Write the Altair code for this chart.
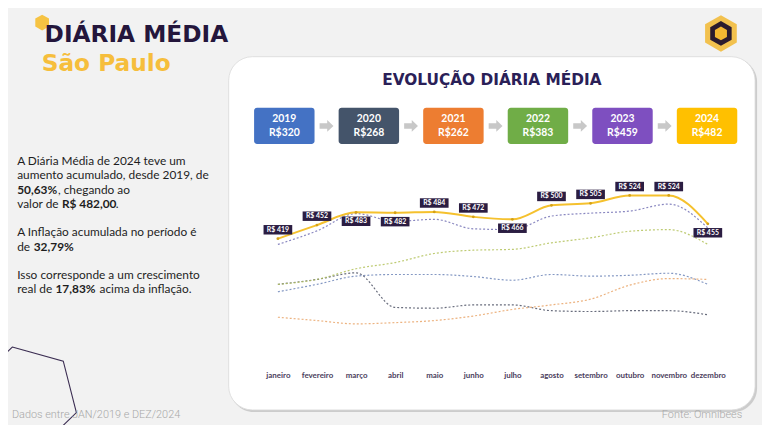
import altair as alt
import pandas as pd

# ---------------- dados ----------------
meses = ["janeiro", "fevereiro", "março", "abril", "maio", "junho",
         "julho", "agosto", "setembro", "outubro", "novembro", "dezembro"]
anos = ["2019", "2020", "2021", "2022", "2023", "2024"]
medias_anuais = [320, 268, 262, 383, 459, 482]

diaria_2019 = [290, 308, 328, 332, 332, 327, 318, 332, 328, 330, 335, 308]
diaria_2020 = [308, 320, 336, 252, 250, 258, 258, 244, 242, 244, 244, 234]
diaria_2021 = [228, 220, 212, 215, 220, 231, 247, 258, 272, 306, 322, 320]
diaria_2022 = [308, 320, 346, 361, 383, 391, 393, 409, 421, 437, 441, 405]
diaria_2023 = [405, 438, 480, 461, 466, 443, 441, 474, 481, 486, 503, 445]
diaria_2024 = [419, 452, 483, 482, 484, 472, 466, 500, 505, 524, 524, 455]

titulo_1 = "DIÁRIA MÉDIA"
titulo_2 = "São Paulo"
titulo_grafico = "EVOLUÇÃO DIÁRIA MÉDIA"
rodape_esq = "Dados entre JAN/2019 e DEZ/2024"
rodape_dir = "Fonte: Omnibees"

# ---------------- estilo ----------------
cores_anos = ["#4472C4", "#44546A", "#ED7D31", "#70AD47", "#7E4FC0", "#FFC000"]
cores_linhas = ["#6E86B8", "#4F5366", "#E9A468", "#B3C25A", "#7472B5"]
meses_rotulo_abaixo = ["março", "abril", "julho", "dezembro"]

W, H = 474, 183
OX, OY = 261, 189          # page position of the plot origin


def X(p):
    return p - OX


def Y(p):
    return p - OY


series = [diaria_2019, diaria_2020, diaria_2021, diaria_2022, diaria_2023, diaria_2024]
rows = []
for ano, vals in zip(anos, series):
    for m, v in zip(meses, vals):
        rows.append({"mes": m, "ano": ano, "valor": v,
                     "pos": "abaixo" if m in meses_rotulo_abaixo else "acima"})
df = pd.DataFrame(rows)

df_anos = pd.DataFrame({"ano": anos, "media": medias_anuais})
one = pd.DataFrame({"k": [0]})

xenc = alt.X("mes:O", sort=meses, scale=alt.Scale(type="point", padding=0.5),
             axis=alt.Axis(title=None, labelAngle=0, domain=False, ticks=False, tickSize=0,
                           labelPadding=1, labelFont="Lato", labelFontSize=8,
                           labelFontWeight="bold", labelColor="#4A3D5C", grid=False,
                           zindex=1))
yenc = alt.Y("valor:Q", scale=alt.Scale(domain=[99, 539], nice=False, zero=False), axis=None)


def txt(text, xp, yp, size, color, weight="normal", font="Lato", align="left",
        baseline="alphabetic"):
    return alt.Chart(one).mark_text(
        text=text, fontSize=size, color=color, fontWeight=weight, font=font,
        align=align, baseline=baseline
    ).encode(x=alt.value(X(xp)), y=alt.value(Y(yp)))


HEX = "M0,-1L0.866,-0.5L0.866,0.5L0,1L-0.866,0.5L-0.866,-0.5Z"
RECT = "M-1,-0.33H1V0.33H-1Z"
ARROW = "M-1,-0.4H0.1V-0.85L1,0L0.1,0.85V0.4H-1Z"
BIGHEX = ("M-0.248,-0.966L0.715,-0.698L0.963,0.271L0.248,0.968"
          "L-0.715,0.7L-0.963,-0.269Z")


def sym(shape, xp, yp, diam, color, filled=True, stroke_w=1):
    props = dict(shape=shape, size=diam * diam, opacity=1)
    if filled:
        props.update(filled=True, color=color, strokeWidth=0)
    else:
        props.update(filled=False, color=color, strokeWidth=stroke_w)
    return alt.Chart(one).mark_point(**props).encode(x=alt.value(X(xp)), y=alt.value(Y(yp)))


# ---------- page decorations ----------
shadow = alt.Chart(one).mark_rect(cornerRadius=24, color="#C2C2C2", opacity=0.8).encode(
    x=alt.value(X(232.5)), x2=alt.value(X(765)), y=alt.value(Y(56.5)), y2=alt.value(Y(414)))
card = alt.Chart(one).mark_rect(cornerRadius=24, color="white", stroke="#D9D9D9",
                                strokeWidth=0.8).encode(
    x=alt.value(X(231)), x2=alt.value(X(763)), y=alt.value(Y(55)), y2=alt.value(Y(412)))

hex_title = sym(HEX, 42.5, 20.5, 16, "#F6C343")
logo1 = sym(HEX, 728.5, 31.5, 37, "#F2C14E")
logo2 = sym(HEX, 728.5, 31.5, 25, "#2B1B2E")
logo3 = sym(HEX, 728.5, 31.5, 14, "#F4B731")
deco = sym(BIGHEX, 25.6, 400.1, 107, "#3B2D52", filled=False, stroke_w=1.1)

t1 = txt(titulo_1, 45, 40, 23.5, "#24163C", weight="bold", font="DejaVu Sans")
t2 = txt(titulo_2, 42, 69, 23.5, "#F6BE3C", weight="bold", font="DejaVu Sans")
tg = txt(titulo_grafico, 497, 84, 15.5, "#2A2057", weight="bold", font="DejaVu Sans",
         align="center")
f1 = txt(rodape_esq, 12, 420, 11, "#A8A8A8", weight=300, font="Roboto")
f2 = txt(rodape_dir, 750, 420, 11, "#A8A8A8", weight=300, font="Roboto", align="right")

# ---------- left text ----------
TC = "#1E1E1E"
segs = [
    ("A Diária Média de 2024 teve um", 17.3, 164, "normal"),
    ("aumento acumulado, desde 2019, de", 17.3, 178.7, "normal"),
    ("50,63%", 17.3, 193.3, "bold"), (", chegando ao", 58.5, 193.3, "normal"),
    ("valor de", 17.3, 208, "normal"), ("R$ 482,00", 62.5, 208, "bold"),
    (".", 117, 208, "normal"),
    ("A Inflação acumulada no período é", 17.3, 236.7, "normal"),
    ("de", 17.3, 251.3, "normal"), ("32,79%", 34, 251.3, "bold"),
    ("Isso corresponde a um crescimento", 17.3, 280, "normal"),
    ("real de", 17.3, 294.3, "normal"), ("17,83%", 56, 294.3, "bold"),
    ("acima da inflação.", 100.5, 294.3, "normal"),
]
left_layers = [txt(s, xp, yp, 12, TC, weight=w) for s, xp, yp, w in segs]

# ---------- data layers ----------
base = alt.Chart(df)
dashed = base.transform_filter(alt.datum.ano != "2024").mark_line(
    interpolate="monotone", strokeDash=[2, 2], strokeWidth=1.2, opacity=0.85
).encode(x=xenc, y=yenc,
         color=alt.Color("ano:N", scale=alt.Scale(domain=anos[:5], range=cores_linhas),
                         legend=None))
b24 = base.transform_filter(alt.datum.ano == "2024")
line24 = b24.mark_line(interpolate="monotone", color="#F5C12E", strokeWidth=2).encode(x=xenc, y=yenc)
pts24 = b24.mark_circle(size=8, color="#D4A017", opacity=1).encode(x=xenc, y=yenc)

lab_layers = []
for pos, off in [("acima", -9), ("abaixo", 9)]:
    bb = b24.transform_filter(alt.datum.pos == pos).transform_calculate(
        rotulo="'R$ ' + datum.valor")
    lab_layers.append(bb.mark_point(shape=RECT, size=29 * 29, filled=True, color="#2B1D42",
                                    opacity=1, strokeWidth=0, yOffset=off).encode(x=xenc, y=yenc))
    lab_layers.append(bb.mark_text(fontSize=7, fontWeight="bold", color="white", font="Lato",
                                   yOffset=off, baseline="middle").encode(
        x=xenc, y=yenc, text="rotulo:N"))

dados = alt.layer(dashed, line24, pts24, *lab_layers)

# ---------- year boxes ----------
xb = alt.X("ano:O", scale=alt.Scale(type="band", range=[X(256.7), X(745)],
                                     paddingInner=0.285, paddingOuter=0), axis=None)
ba = alt.Chart(df_anos).transform_calculate(rotulo="'R$' + datum.media")
boxes = ba.mark_rect(cornerRadius=3).encode(
    x=xb, y=alt.value(Y(106.7)), y2=alt.value(Y(143.3)),
    color=alt.Color("ano:N", scale=alt.Scale(domain=anos, range=cores_anos), legend=None))
box_ano = ba.mark_text(fontSize=10.5, fontWeight="bold", color="white", font="Lato",
                       baseline="middle").encode(x=xb, y=alt.value(Y(118.5)), text="ano:N")
box_val = ba.mark_text(fontSize=10.5, fontWeight="bold", color="white", font="Lato",
                       baseline="middle").encode(x=xb, y=alt.value(Y(132)), text="rotulo:N")
arrows = ba.transform_filter(alt.datum.ano != "2024").mark_point(
    shape=ARROW, size=14 * 14, filled=True, color="#C8C8C8", opacity=1, strokeWidth=0,
    xOffset=42.65).encode(x=xb, y=alt.value(Y(125)))
anos_layer = alt.layer(boxes, arrows, box_ano, box_val)

chart = alt.layer(
    shadow, card, deco, hex_title, logo1, logo2, logo3, t1, t2, tg, f1, f2,
    *left_layers, dados, anos_layer
).resolve_scale(x="independent", color="independent").properties(
    width=W, height=H,
    padding={"left": 253, "top": 181, "right": 35, "bottom": 53},
    autosize=alt.AutoSizeParams(type="none"),
    background="#F2F2F2",
).configure_view(stroke=None)

chart.save("out.html", embed_options={"renderer": "svg", "actions": False})
